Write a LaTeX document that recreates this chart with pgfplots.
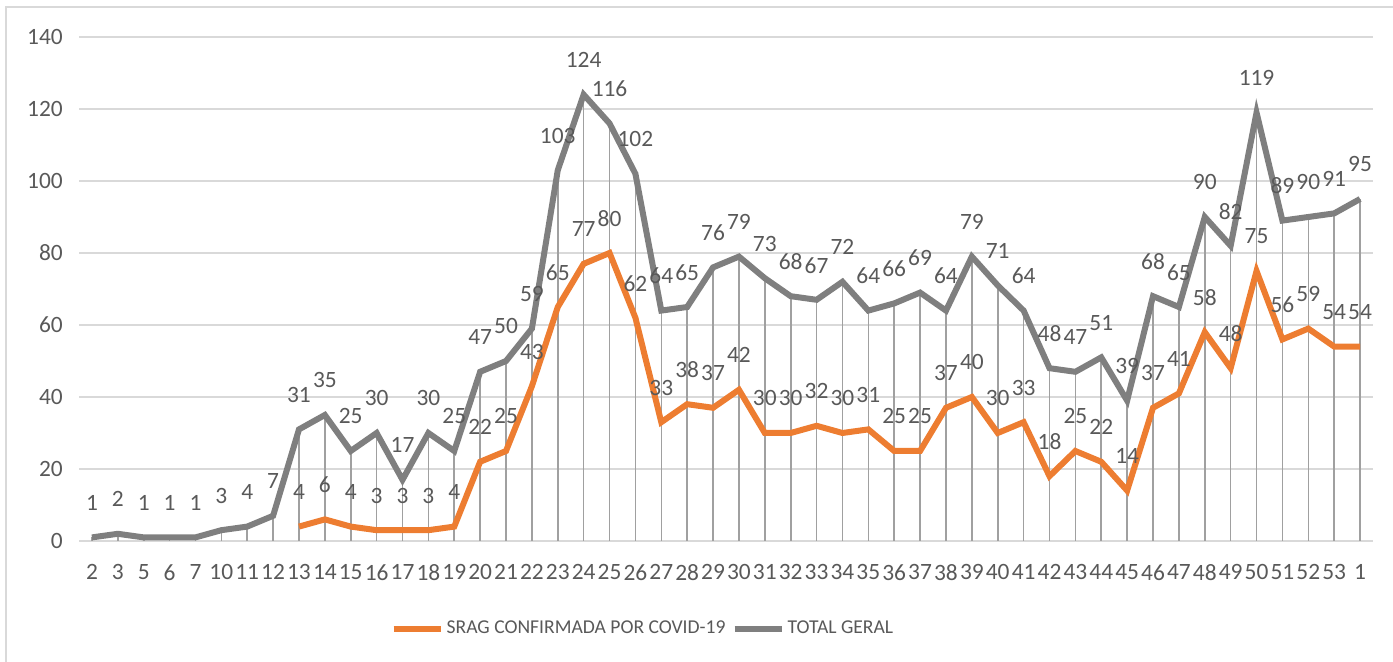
\documentclass[border=0pt]{standalone}
\usepackage{pgfplots}
\pgfplotsset{compat=1.18}
\usepackage{pgfplotstable}
\usepackage{fontspec}
\setmainfont{Carlito}
\definecolor{orn}{HTML}{ED7D31}
\definecolor{gry}{HTML}{7F7F7F}
\definecolor{txt}{HTML}{595959}
\definecolor{gridc}{HTML}{D9D9D9}
\definecolor{dropc}{HTML}{A0A0A0}
\pgfplotstableread{
x tot srag
0 1 nan
1 2 nan
2 1 nan
3 1 nan
4 1 nan
5 3 nan
6 4 nan
7 7 nan
8 31 4
9 35 6
10 25 4
11 30 3
12 17 3
13 30 3
14 25 4
15 47 22
16 50 25
17 59 43
18 103 65
19 124 77
20 116 80
21 102 62
22 64 33
23 65 38
24 76 37
25 79 42
26 73 30
27 68 30
28 67 32
29 72 30
30 64 31
31 66 25
32 69 25
33 64 37
34 79 40
35 71 30
36 64 33
37 48 18
38 47 25
39 51 22
40 39 14
41 68 37
42 65 41
43 90 58
44 82 48
45 119 75
46 89 56
47 90 59
48 91 54
49 95 54
}\data
\begin{document}
\begin{tikzpicture}
\useasboundingbox (0,0) rectangle (696.5pt,331pt);
\draw[gridc, line width=0.8pt] (3pt,0pt) -- (3pt,327.5pt) -- (696.5pt,327.5pt);
\begin{axis}[
  at={(39.5pt,60.5pt)}, anchor=south west,
  width=647pt, height=252pt, scale only axis,
  xmin=-0.5, xmax=49.5, ymin=0, ymax=140,
  ytick={0,20,...,140},
  xtick={0,...,49},
  xticklabels={2,3,5,6,7,10,11,12,13,14,15,16,17,18,19,20,21,22,23,24,25,26,27,28,29,30,31,32,33,34,35,36,37,38,39,40,41,42,43,44,45,46,47,48,49,50,51,52,53,1},
  axis line style={draw=none},
  major tick length=0pt,
  ymajorgrids, grid style={gridc, line width=0.8pt},
  /pgf/number format/assume math mode=true,
  tick label style={font=\fontsize{11.7}{14}\selectfont, text=txt},
  xticklabel style={yshift=-8.3pt},
  yticklabel style={xshift=-4.6pt},
  clip=false,
  legend style={at={(0.4362,-0.1746)}, anchor=center, draw=none, fill=none,
    legend columns=2, font=\fontsize{9.8}{12}\selectfont, text=txt,
    /tikz/every even column/.append style={column sep=1.5pt},
    nodes={inner xsep=1.5pt},
    inner sep=0pt},
  legend image code/.code={\draw[#1, line width=3pt] (0pt,0pt) -- (23.5pt,0pt);},
  nodes near coords style={font=\fontsize{11.7}{14}\selectfont, text=txt, anchor=center, yshift=17.3pt},
]
\addplot[ycomb, dropc, line width=0.8pt, forget plot] table[x=x, y=tot] {\data};
\addplot[orn, line width=3pt, nodes near coords] table[x=x, y=srag] {\data};
\addlegendentry{SRAG CONFIRMADA POR COVID-19}
\addplot[gry, line width=3pt, nodes near coords] table[x=x, y=tot] {\data};
\addlegendentry{TOTAL GERAL}
\end{axis}
\end{tikzpicture}
\end{document}
